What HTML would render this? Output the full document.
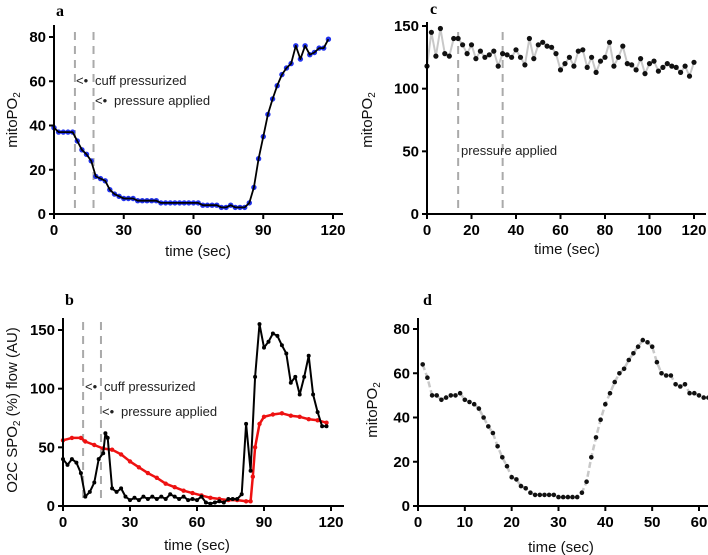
<!DOCTYPE html>
<html><head><meta charset="utf-8"><style>
html,body{margin:0;padding:0;background:#fff;}
svg{display:block;font-family:"Liberation Sans",sans-serif;}
.tick{font-weight:bold;font-size:15px;fill:#000;}
.ttl{font-size:15px;fill:#111;}
.ann{font-size:13px;fill:#222;}
.pl{font-family:"Liberation Serif",serif;font-weight:bold;font-size:16px;}
</style></head><body>
<svg id="fig" width="708" height="555" viewBox="0 0 708 555"></svg>
<script>
// Panel a data
const aTimes=[0,2,4,6,8,10,12,14,16,18,20,22,24,26,28,30,32,34,36,38,40,42,44,46,48,50,52,54,56,58,60,62,64,66,68,70,72,74,76,78,80,82,84,86,88,90,92,94,96,98,100,102,104,106,108,110,112,114,116,118];
const aValues=[39,37,37,37,37,33,29,27,24,17,16,15,11,9,8,7,7,7,6,6,6,6,6,5,5,5,5,5,5,5,5,5,4,4,4,4,3,3,4,3,3,3,5,12,25,35,45,52,58,63,66,68,76,70,76,72,73,75,75,79];
const aXTicks=[0,30,60,90,120];
const aYTicks=[0,20,40,60,80];
// Panel b data
const bBlackTimes=[0,2,4,6,8,10,12,14,16,18,19,20,22,24,26,28,30,32,34,36,38,40,42,44,46,48,50,52,54,56,58,60,62,64,66,68,70,72,74,76,78,80,82,84,86,88,90,92,94,96,98,100,102,104,106,108,110,112,114,116,118];
const bBlackValues=[40,35,40,37,28,8,12,20,40,45,62,58,15,12,15,8,5,7,5,8,6,8,6,8,6,10,8,6,8,5,6,5,8,3,2,3,4,3,6,6,6,10,70,30,110,155,135,140,147,145,137,130,105,110,95,110,128,95,80,68,68];
const bRedTimes=[0,4,8,10,14,18,22,26,30,34,38,42,46,50,54,58,62,66,70,74,78,82,84,85,86,88,90,94,98,102,106,110,114,118];
const bRedValues=[56,58,58,55,52,49,48,44,38,33,28,24,19,16,13,11,9,7,6,5,5,4,4,25,50,70,76,78,79,77,76,74,73,71];
const bXTicks=[0,30,60,90,120];
const bYTicks=[0,50,100,150];
// Panel c data
const cTimes=[0,2,4,6,8,10,12,14,16,18,20,22,24,26,28,30,32,34,36,38,40,42,44,46,48,50,52,54,56,58,60,62,64,66,68,70,72,74,76,78,80,82,84,86,88,90,92,94,96,98,100,102,104,106,108,110,112,114,116,118,120];
const cValues=[118,145,126,148,128,126,140,140,135,128,135,124,130,125,127,130,118,128,127,125,131,125,119,140,124,135,137,134,133,128,115,120,125,118,130,131,117,125,113,122,125,137,118,125,134,120,119,115,124,112,120,122,114,117,120,118,117,113,118,110,121];
const cXTicks=[0,20,40,60,80,100,120];
const cYTicks=[0,50,100,150];
// Panel d data
const dTimes=[1,2,3,4,5,6,7,8,9,10,11,12,13,14,15,16,17,18,19,20,21,22,23,24,25,26,27,28,29,30,31,32,33,34,35,36,37,38,39,40,41,42,43,44,45,46,47,48,49,50,51,52,53,54,55,56,57,58,59,60,61,62];
const dValues=[64,58,50,50,48,49,50,50,51,48,47,46,44,40,36,33,27,22,18,13,12,9,8,6,5,5,5,5,5,4,4,4,4,4,6,11,22,31,39,46,51,56,60,62,66,69,72,75,74,72,65,60,59,59,55,54,55,51,51,50,49,49];
const dXTicks=[0,10,20,30,40,50,60];
const dYTicks=[0,20,40,60,80];

const NS="http://www.w3.org/2000/svg";
const svg=document.getElementById('fig');
function mk(tag,attrs,parent){const e=document.createElementNS(NS,tag);for(const k in attrs)e.setAttribute(k,attrs[k]);(parent||svg).appendChild(e);return e;}
function txt(s,attrs,parent){const e=mk('text',attrs,parent);e.textContent=s;return e;}

const xa=t=>54+t*279/120, ya=v=>214-v*177/80;
const xb=t=>63+t*268/120, yb=v=>506-v*176/150;
const xc=t=>427+t*267/120, yc=v=>214-v*188/150;
const xd=t=>418+t*281/60, yd=v=>506-v*177/80;

function axes(g,x0,y0,xEnd,yTop,xs,ys,xTicks,yTicks){
  const ax=mk('path',{d:`M${x0},${yTop}V${y0}H${xEnd}`,stroke:'#000','stroke-width':2,fill:'none'},g);
  
  
  xTicks.forEach(t=>{const x=xs(t);
    const l=mk('line',{x1:x,x2:x,y1:y0,y2:y0+5,stroke:'#000','stroke-width':2},g);
    
    
    const tl=txt(String(t),{x:x,y:y0+21,'text-anchor':'middle',class:'tick'},g);
    
    });
  yTicks.forEach(v=>{const y=ys(v);
    const l=mk('line',{x1:x0-5,x2:x0,y1:y,y2:y,stroke:'#000','stroke-width':2},g);
    
    
    const tl=txt(String(v),{x:x0-8,y:y+5,'text-anchor':'end',class:'tick'},g);
    
    });
}
function ytitle(g,cx,cy,parts){
  const t=mk('text',{x:cx,y:cy,transform:`rotate(-90 ${cx} ${cy})`,'text-anchor':'middle',class:'ttl'},g);
  
  
  parts.forEach(p=>{const s=mk('tspan',p.sub?{'font-size':'10px',dy:'3'}:(p.up?{dy:'-3'}:{}),t);s.textContent=p.s;});
}
function xtitle(g,cx,cy){const t=txt('time (sec)',{x:cx,y:cy,'text-anchor':'middle',class:'ttl'},g);
  
  }
function label(g,s,x,y){const t=txt(s,{x:x,y:y,class:'pl'},g);
  
  }
function dashed(g,x,y1,y2){const l=mk('line',{x1:x,x2:x,y1:y1,y2:y2,stroke:'#aaa','stroke-width':2,'stroke-dasharray':'8,6'},g);
  
  }
function line(g,ts,vs,xs,ys,color,w,dash,name){
  const d=ts.map((t,i)=>(i?'L':'M')+xs(t).toFixed(1)+','+ys(vs[i]).toFixed(1)).join('');
  const p=mk('path',{d:d,stroke:color,'stroke-width':w,fill:'none','stroke-linejoin':'round'},g);
  if(dash)p.setAttribute('stroke-dasharray',dash);
  
  
}
function dots(g,ts,vs,xs,ys,color,r,name){
  ts.forEach((t,i)=>{const c=mk('circle',{cx:xs(t).toFixed(1),cy:ys(vs[i]).toFixed(1),r:r,fill:color},g);
    
    });
}
function ann(g,x,y,s){
  const a=txt('<•',{x:x,y:y,class:'ann'},g);
  
  
  const b=txt(s,{x:x+19,y:y,class:'ann'},g);
  
  
}

// Panel a
const ga=mk('g',{});
label(ga,'a',56,16);
dashed(ga,xa(9),32,212);dashed(ga,xa(17),32,212);
dots(ga,aTimes,aValues,xa,ya,'#2233ee',2.7,'mitopo2-point');
line(ga,aTimes,aValues,xa,ya,'#000',1.8,null,'mitopo2-line');
axes(ga,54,214,343,25,xa,ya,aXTicks,aYTicks);
ann(ga,76,85,'cuff pressurized');ann(ga,95,105,'pressure applied');
ytitle(ga,17,120,[{s:'mitoPO'},{s:'2',sub:true}]);
xtitle(ga,198,256);

// Panel b
const gb=mk('g',{});
label(gb,'b',65,305);
dashed(gb,xb(9),322,504);dashed(gb,xb(17),322,504);
line(gb,bRedTimes,bRedValues,xb,yb,'#ee1111',2.5,null,'spo2-line');
dots(gb,bRedTimes,bRedValues,xb,yb,'#ee1111',2.2,'spo2-point');
line(gb,bBlackTimes,bBlackValues,xb,yb,'#000',2,null,'flow-line');
dots(gb,bBlackTimes,bBlackValues,xb,yb,'#000',2,'flow-point');
axes(gb,63,506,344,318,xb,yb,bXTicks,bYTicks);
ann(gb,85,391,'cuff pressurized');ann(gb,102,416,'pressure applied');
ytitle(gb,17,410,[{s:'O2C  SPO'},{s:'2',sub:true},{s:' (%) flow (AU)',up:true}]);
xtitle(gb,197,550);

// Panel c
const gc=mk('g',{});
label(gc,'c',430,14);
dashed(gc,xc(14),32,212);dashed(gc,xc(34),32,212);
line(gc,cTimes,cValues,xc,yc,'#c8c8c8',2,null,'mitopo2-line');
dots(gc,cTimes,cValues,xc,yc,'#111',2.6,'mitopo2-point');
axes(gc,427,214,706,22,xc,yc,cXTicks,cYTicks);
const pa=txt('pressure applied',{x:461,y:155,class:'ann'},gc);


ytitle(gc,372,120,[{s:'mitoPO'},{s:'2',sub:true}]);
xtitle(gc,567,254);

// Panel d
const gd=mk('g',{});
label(gd,'d',423,305);
line(gd,dTimes,dValues,xd,yd,'#c8c8c8',2.5,'6,3','mitopo2-line');
dots(gd,dTimes,dValues,xd,yd,'#111',2.3,'mitopo2-point');
axes(gd,418,506,708,318,xd,yd,dXTicks,dYTicks);
ytitle(gd,377,410,[{s:'mitoPO'},{s:'2',sub:true}]);
xtitle(gd,561,552);
</script>
</body></html>
